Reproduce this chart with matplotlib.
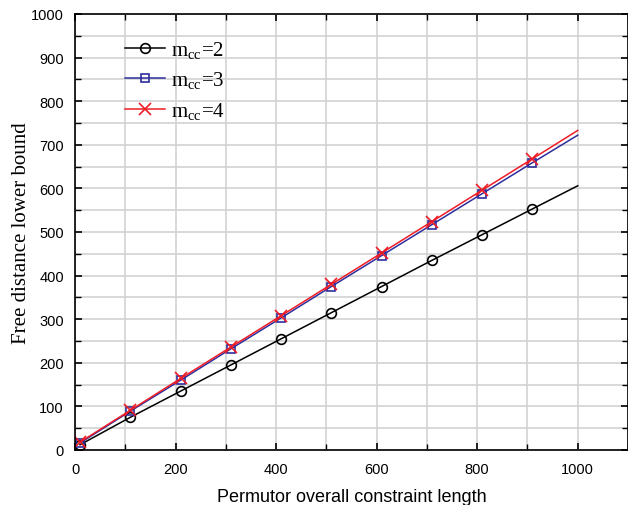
import numpy as np
from matplotlib import pyplot as plt
from matplotlib.ticker import MultipleLocator

# data
x = [10, 110, 210, 310, 410, 510, 610, 710, 810, 910, 1000]
m2 = [12, 75, 135, 195, 255, 315, 375, 435, 494, 553, 606]
m3 = [16, 89, 160, 232, 303, 375, 446, 517, 588, 659, 722]
m4 = [18, 91, 164, 236, 308, 380, 452, 524, 596, 668, 733]
marker_x = x[:-1]

plt.rcParams['mathtext.fontset'] = 'custom'
plt.rcParams['mathtext.rm'] = 'Liberation Serif'

fig = plt.figure(figsize=(6.28, 5.06), dpi=100)
ax = fig.add_axes([75 / 628, 1 - 451 / 506, 553 / 628, 436 / 506])

series = [
    (m2, 'black', 'o', 7, '2'),
    (m3, '#2e2e9e', 's', 5.5, '3'),
    (m4, '#ee1c25', 'x', 8.5, '4'),
]
for vals, col, mk, ms, lab in series:
    ax.plot(x, vals, color=col, lw=1.1)
    ax.plot(marker_x, vals[:-1], ls='none', marker=mk, ms=ms, mfc='none',
            mec=col, mew=1.2)
    # legend handle: line + marker
    ax.plot([], [], color=col, lw=1.1, marker=mk, ms=ms, mfc='none',
            mec=col, mew=1.2, label=r'm$_\mathregular{cc}$=' + lab)

ax.set_xlim(0, 1100)
ax.set_ylim(0, 1000)
ax.xaxis.set_major_locator(MultipleLocator(200))
ax.xaxis.set_minor_locator(MultipleLocator(100))
ax.yaxis.set_major_locator(MultipleLocator(100))
ax.yaxis.set_minor_locator(MultipleLocator(50))
ax.grid(True, which='both', color='#d2d2d2', lw=1.2)
ax.set_axisbelow(True)
ax.tick_params(which='both', direction='in', top=True, right=True,
               labelsize=10.5, labelfontfamily='Liberation Sans')
ax.tick_params(which='major', length=5, width=1.2)
ax.tick_params(axis='x', which='major', pad=9)
ax.tick_params(axis='y', which='major', pad=8)
ax.tick_params(which='minor', length=4, width=1.0)
for s in ax.spines.values():
    s.set_linewidth(1.2)

ax.set_xlabel('Permutor overall constraint length', fontsize=13,
              family='Liberation Sans', labelpad=8)
ax.set_ylabel('Free distance lower bound', fontsize=15,
              family='Liberation Serif', labelpad=0)

leg = ax.legend(loc='upper left', bbox_to_anchor=(0.057, 0.985), frameon=False,
                prop={'family': 'Liberation Serif', 'size': 15},
                handlelength=1.9, handletextpad=0.3, labelspacing=0.42)

fig.savefig('out.png', dpi=100)
